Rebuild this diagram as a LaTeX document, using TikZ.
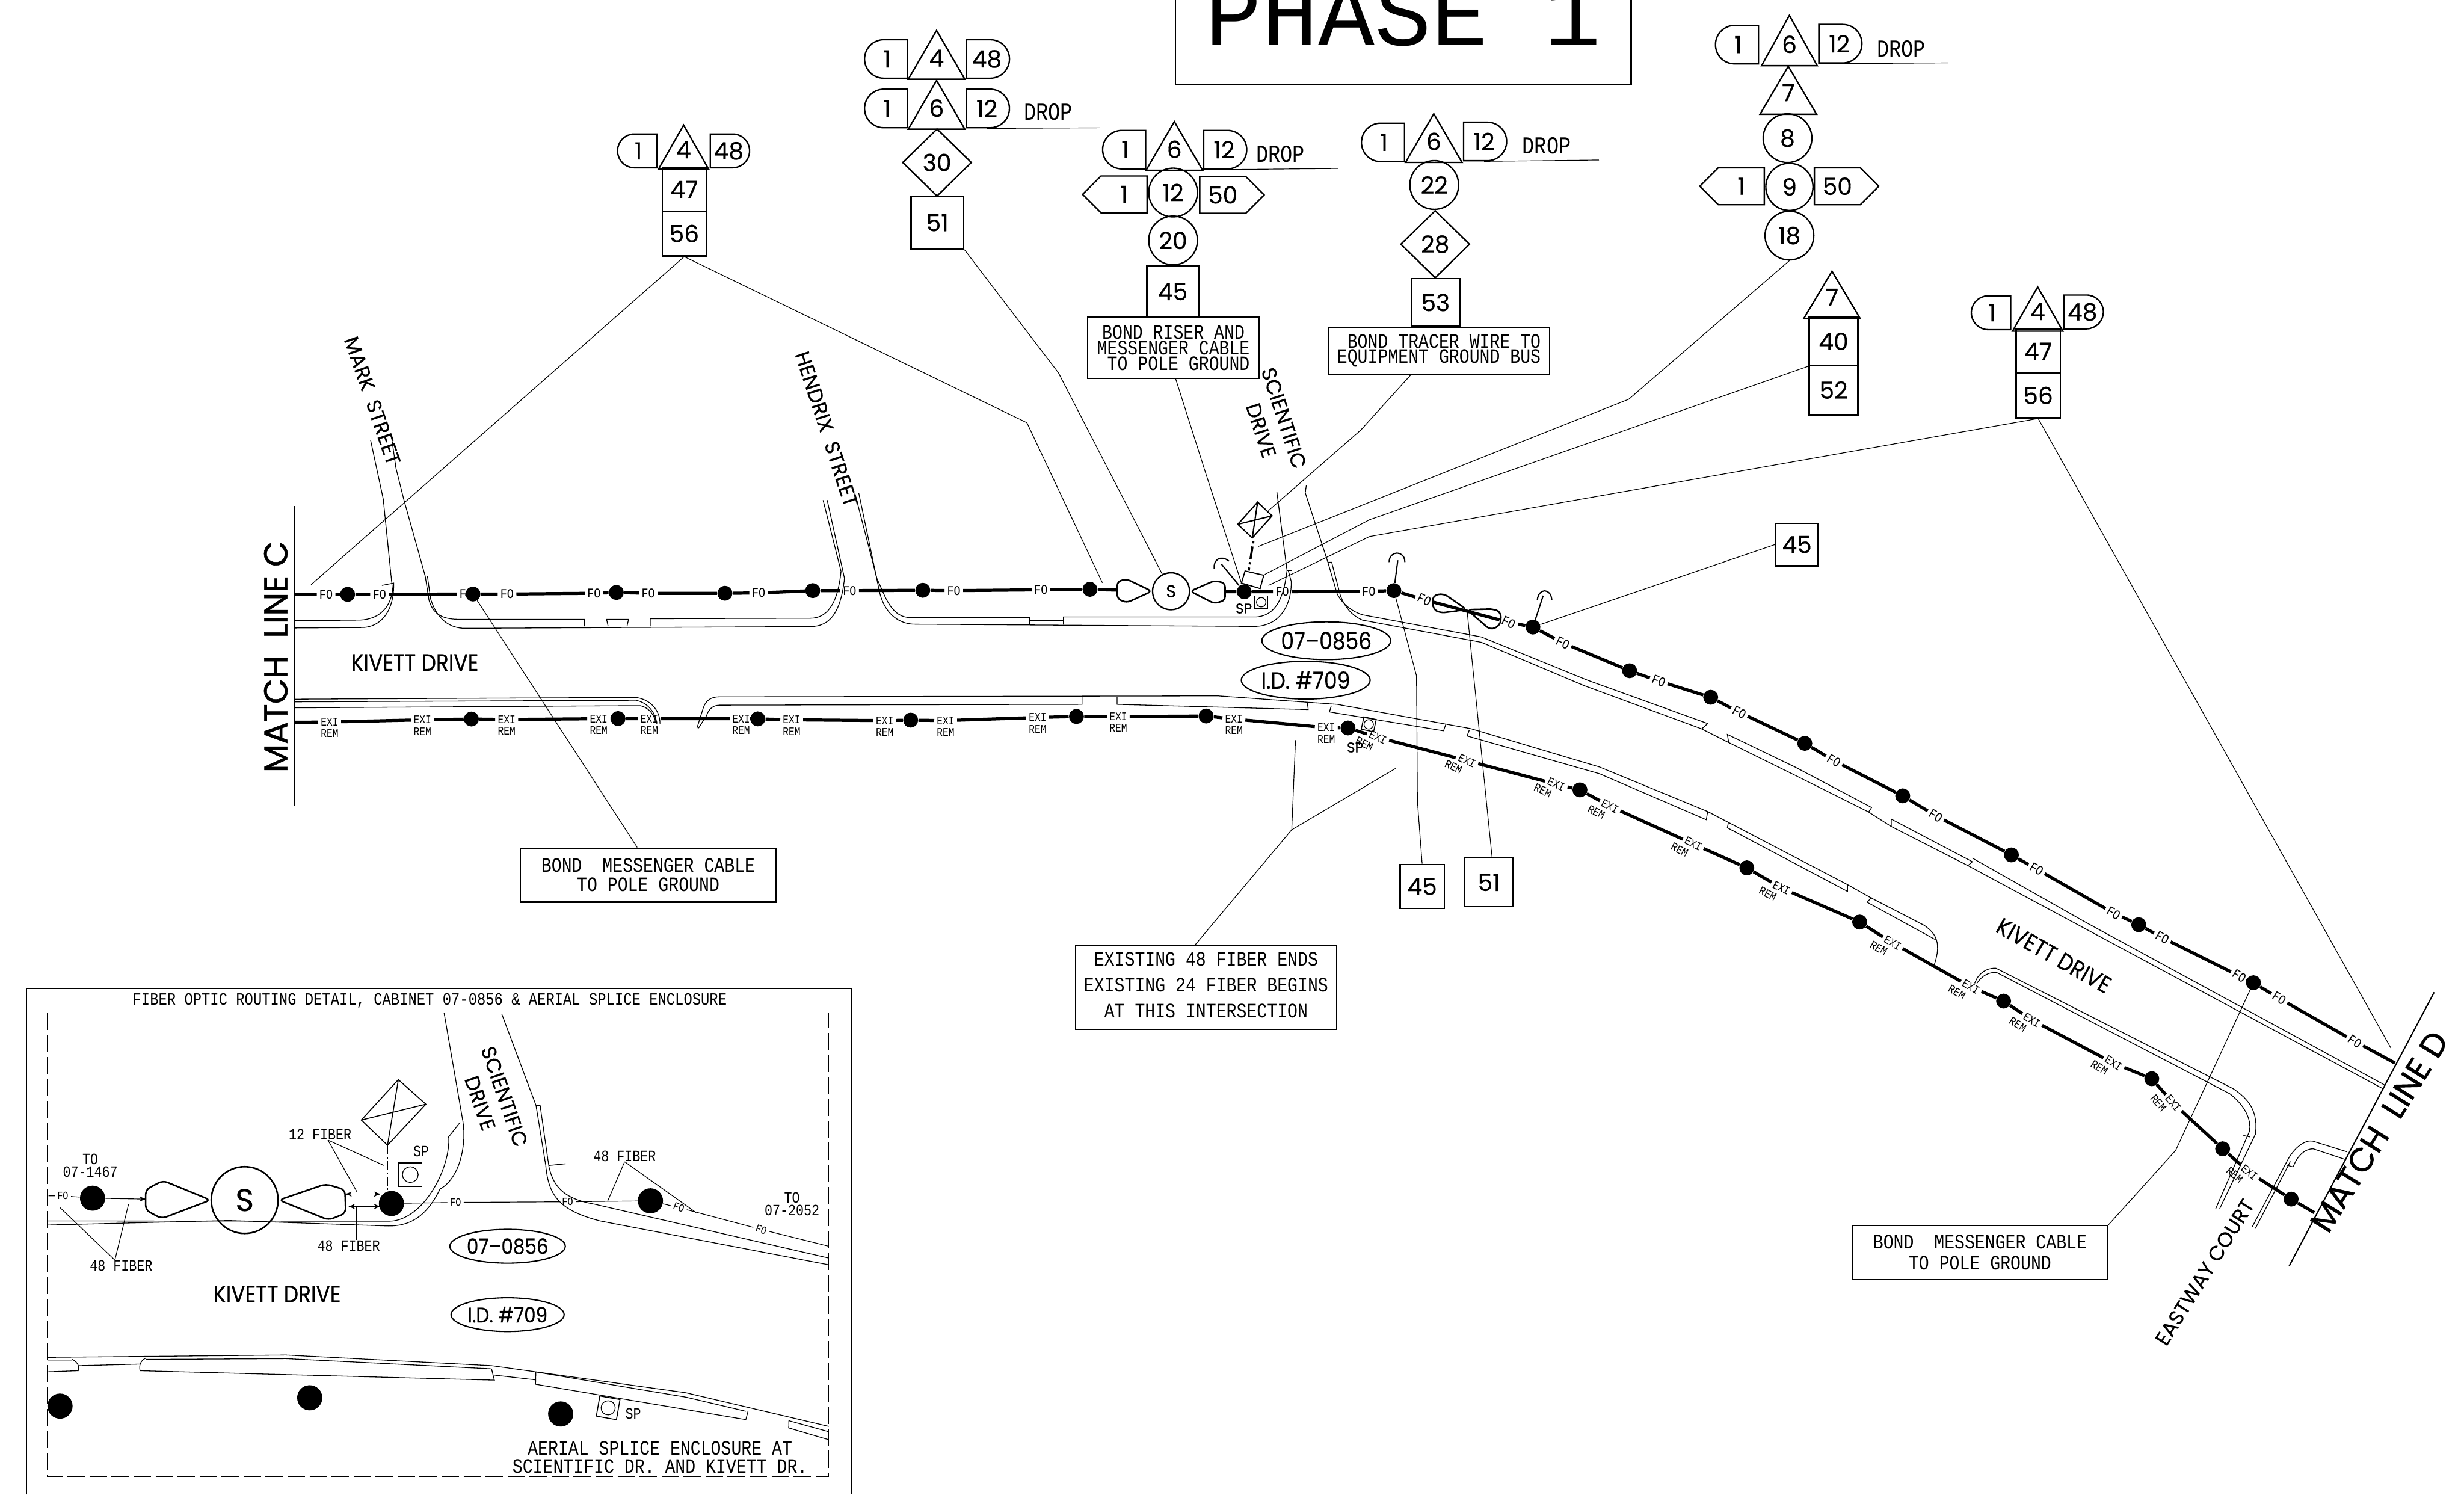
\documentclass[tikz,border=0pt]{standalone}
\usepackage{fontspec}
\usepackage{amsmath}
\usetikzlibrary{arrows}
\usetikzlibrary{calc}
\usetikzlibrary{positioning}
\usetikzlibrary{shapes.geometric,shapes.misc,shapes.symbols}
\newfontfamily\cadfont[FakeStretch=.83]{Liberation Mono}
\newfontfamily\numfont[FakeBold=.4]{Poppins}
\newfontfamily\kivfont[FakeStretch=.88,FakeBold=.5]{Poppins}
\newfontfamily\streetfont[FakeBold=.3]{Poppins}
\newfontfamily\matchfont[FakeBold=1]{Poppins}
\newfontfamily\phasefont{Liberation Mono}
\newcommand{\fsize}[1]{\fontsize{#1}{#1}\selectfont}

\begin{document}
\begin{tikzpicture}[x=1pt,y=-1pt,>=stealth',node distance=31pt]
	\tikzstyle{road}=[line width=.5pt]
	\tikzstyle{lead}=[line width=.45pt]
	\tikzstyle{fiber}=[line width=2pt]
	\tikzstyle{guy}=[line width=.8pt]
	\tikzstyle{outline}=[line width=.9pt]
	\tikzstyle{pole}=[circle, fill=black, inner sep=0pt, minimum size=9.5pt]
	\tikzstyle{bigpole}=[circle, fill=black, inner sep=0pt, minimum size=16pt]
	\tikzstyle{num}=[draw, line width=.9pt, inner sep=0pt, font=\numfont\fsize{15}]
	\tikzstyle{numsq}=[num, rectangle, minimum width=31pt, minimum height=31pt]
	\tikzstyle{numcirc}=[num, circle, minimum size=31pt]
	\tikzstyle{numdiam}=[num, diamond, minimum width=44pt, minimum height=43pt]
	\tikzstyle{numtri}=[num, isosceles triangle, isosceles triangle stretches, shape border rotate=90, minimum height=31pt, minimum width=36pt, text depth=6pt, anchor=apex]
	\tikzstyle{pillleft}=[num, rounded rectangle, rounded rectangle right arc=none, minimum width=27.4pt, minimum height=24.5pt]
	\tikzstyle{pillright}=[num, rounded rectangle, rounded rectangle left arc=none, minimum width=27.4pt, minimum height=24.5pt]
	\tikzstyle{arrowleft}=[num, signal, signal to=west, signal from=nowhere, signal pointer angle=90, minimum width=41pt, minimum height=23.5pt]
	\tikzstyle{arrowright}=[num, signal, signal to=east, signal from=nowhere, signal pointer angle=90, minimum width=41pt, minimum height=23.5pt]
	\tikzstyle{tag}=[draw, ellipse, line width=.8pt, inner sep=0pt, minimum width=82pt, minimum height=24pt, font=\kivfont\fsize{15}]
	\tikzstyle{note}=[draw, line width=.8pt, align=center, font=\cadfont\fsize{13}]
	\tikzstyle{cad}=[align=center, inner sep=0pt, font=\cadfont\fsize{10}]
	\tikzstyle{dropt}=[inner sep=0pt, font=\cadfont\fsize{15.5}]
	\tikzstyle{splice}=[draw, line width=.6pt, rectangle, minimum size=8pt, inner sep=0pt]
	\tikzstyle{street}=[inner sep=0pt, font=\streetfont\fsize{13}]
	\tikzstyle{kivett}=[inner sep=0pt, font=\kivfont\fsize{15}]
	\tikzstyle{matchln}=[inner sep=0pt, font=\matchfont\fsize{21}]
	\tikzset{fo/.style={inner sep=1.5pt, font=\cadfont\fsize{8.5}, rotate=#1}, fo/.default=0}
	\tikzset{exi/.style={inner sep=1.5pt, font=\cadfont\fsize{7.5}, rotate=#1, label={[inner sep=0pt, font=\cadfont\fsize{7.5}, rotate=#1, label distance=.5pt]below:REM}}, exi/.default=0}
	\useasboundingbox (0,0) rectangle (1568,951);

	% title
	\node[draw, outline, rectangle, anchor=south, minimum width=290pt, inner xsep=0pt, inner ysep=24pt, font=\phasefont\fsize{60}] (phase) at (893,54) {PHASE 1};

	% match lines
	\coordinate (mlctop) at (187.5,322);
	\coordinate (mlcbot) at (187.5,513);
	\coordinate (mldtop) at (1549,631.4);
	\coordinate (mldbot) at (1456.7,805.6);
	\draw[guy] (mlctop) -- (mlcbot);
	\draw[guy] (mldtop) -- (mldbot);
	\node[matchln, rotate=90] (mlc) at (175.5,418) {MATCH\ \ LINE C};
	\node[matchln, rotate=58] (mld) at (1514,720) {MATCH\ \ LINE D};

	% road edges, top side of kivett
	\draw[road] (235.8,280) -- (243.9,317.6) -- (249.8,375.8) .. controls (248,388) and (240,394.6) .. (227.6,394.6) -- (187.5,395);
	\draw[road] (243,372.5) -- (250.5,371) .. controls (251,388) and (243,399.3) .. (230,399.3) -- (187.5,399.6);
	\draw[road] (249,277) -- (252,298) -- (256.9,317.6) -- (270.6,366.6) -- (273,382) .. controls (276,392) and (283,394.1) .. (292.7,394.1) -- (371.8,394.1) -- (371.8,398.5);
	\draw[road] (272,366.6) -- (274,381) .. controls (278,394) and (286,399.8) .. (296,399.8) -- (515.6,398.7) .. controls (528,398.7) and (535,390) .. (537.4,368) -- (526.4,318.3);
	\draw[road] (372,396.3) -- (386,396.3) (400,396.3) -- (414,396.3);
	\draw[road] (387,398.5) -- (386,394.1) -- (400,394.1) -- (399,398.5);
	\draw[road] (413.8,398.5) -- (413.8,393.7) -- (515.6,393.4) .. controls (526,393.4) and (533,385) .. (535.2,363.5) -- (523.8,318.3);
	\draw[road] (546.5,313.8) -- (554.7,352.8) -- (559.5,375.8) .. controls (562,388) and (570,397.2) .. (582.3,397.2) -- (798,398.6) .. controls (815,398.6) and (822,384) .. (821.7,370) -- (819.8,363);
	\draw[road] (544,313.8) -- (558,368) -- (562.8,378.8) .. controls (567,388) and (572,392.9) .. (579,392.9) -- (655.2,392.9) -- (655.2,397.5);
	\draw[road] (655.2,395) -- (676.7,395);
	\draw[road] (676.7,397.5) -- (676.7,392.6) -- (798,392.6) .. controls (812,392.6) and (817,380) .. (819,363) -- (812.5,312.8);
	\draw[road] (819,363) -- (821.7,363);
	\draw[road] (831.3,308.8) -- (830.6,313.5) -- (845,357.7) -- (850.9,377.8) .. controls (854,384) and (860,389) .. (867,391.2) -- (942.7,405.3) -- (1010.2,432.8) -- (1086.7,460.4);
	\draw[road] (845,357.7) -- (847.4,357.7) -- (853,379) .. controls (856,387) and (861,392) .. (867,394.6) -- (942.7,408.7) -- (1008.2,436.3) -- (1082.9,463.8) -- (1100.1,472.5) -- (1140.3,492.3) -- (1189.1,516.7) -- (1203.5,525.9) -- (1252.3,550.8) -- (1516.3,692.7);
	\draw[road] (1086.7,460.4) -- (1082.9,463.8);
	\draw[road] (1100.1,472.5) -- (1099.2,467.3) -- (1142.2,488) -- (1191,513.8) -- (1189.1,516.7);
	\draw[road] (1203.5,525.9) -- (1203.5,521.2) -- (1255.1,548.3) -- (1252.3,550.8);
	\draw[road] (1255.1,546) -- (1327.5,587) -- (1517.5,690.4);

	% road edges, bottom side of kivett
	\draw[road] (187.5,444.9) -- (404.6,443.8) .. controls (414,445) and (420,452) .. (420,460.4);
	\draw[road] (187.5,446.6) -- (404.6,445.6) .. controls (412,447) and (417,453) .. (418,460.4);
	\draw[road] (187.5,450.4) -- (407.3,449) .. controls (412,450) and (415,453) .. (417,458);
	\draw[road] (443.5,463.3) -- (447.5,450.6) .. controls (449,446) and (452,443.4) .. (458,443.4) -- (775,442.8) -- (851,448.2) -- (935.8,463.6) -- (1017.8,488) -- (1086.7,516.4) -- (1175.7,562.9) -- (1191,571.5) -- (1224.5,588.8) .. controls (1232,594) and (1236,600) .. (1230.3,615.5);
	\draw[road] (444.5,463.3) -- (449.7,455.2) .. controls (451,451) and (454,448.7) .. (458,448.7) -- (688.6,448.2) -- (688.6,443.6);
	\draw[road] (710.9,443.6) -- (710.9,448.2) -- (832.5,451.5) -- (832,447.4);
	\draw[road] (847.2,449) -- (846,453) -- (918.6,465) -- (920,461);
	\draw[road] (935,464.5) -- (933.6,468.3) -- (1017.8,492.3) -- (1085.8,521.6) -- (1086.7,516.4);
	\draw[road] (1100,523) -- (1099.2,526.7) -- (1175.7,567.2) -- (1175.7,562.9);
	\draw[road] (1191,571) -- (1188.2,574.1) -- (1232.2,598.2);
	\draw[road] (1256.6,625.7) .. controls (1259,619) and (1264,616) .. (1270,616) -- (1421,692.7) .. controls (1432,700) and (1437,708) .. (1435.2,721.8) -- (1412.4,769.3);
	\draw[road] (1258,625.7) .. controls (1261,621) and (1266,618) .. (1271,619) -- (1419,696) .. controls (1428,703) and (1433,712) .. (1431.4,720) -- (1409.9,769.3);
	\draw[road] (1427.6,722.5) -- (1432,723.5);
	\draw[road] (1433.2,780.7) -- (1455.5,738.6) .. controls (1460,730) and (1467,725) .. (1472,726.2) -- (1493.5,732.9);
	\draw[road] (1435.2,781.7) -- (1457.5,739) (1459.3,742.5) .. controls (1462,735) and (1467,731) .. (1472,731) -- (1492.2,737.7);
	\draw[road] (1455.5,741.5) -- (1459.3,742.5);

	% upper fiber run
	\coordinate (fstart) at (187.5,378.3);
	\node[fo] (fo1) at (207.5,378.3) {FO};
	\node[pole] (pa) at (221.2,378.2) {};
	\node[fo] (fo2) at (241.5,378.2) {FO};
	\node[fo] (fo3) at (294.5,378) {F};
	\node[pole] (pb) at (301,378) {};
	\node[fo] (fo4) at (322.7,378) {FO};
	\node[fo] (fo5) at (378,377.5) {FO};
	\node[pole] (pc) at (392.2,377) {};
	\node[fo] (fo6) at (412.5,377.5) {FO};
	\node[pole] (pd) at (461.3,377.5) {};
	\node[fo] (fo7) at (482.8,377.3) {FO};
	\node[pole] (pe) at (517.2,375.8) {};
	\node[fo] (fo8) at (540.7,375.8) {FO};
	\node[pole] (pf) at (587.2,375.6) {};
	\node[fo] (fo9) at (607,375.8) {FO};
	\node[fo] (fo10) at (662.4,375.3) {FO};
	\node[pole] (pg) at (693.6,375) {};
	\coordinate (wingla) at (711,375.5);
	\coordinate (winglb) at (779.6,376.5);
	\node[draw, circle, outline, inner sep=0pt, minimum size=23.5pt, font=\numfont\fsize{11}] (ssum) at (745.2,376.2) {S};
	\node[pole] (ph) at (791.8,376.5) {};
	\node[fo] (fo11) at (816,376.5) {FO};
	\node[fo] (fo12) at (871,376.2) {FO};
	\node[pole] (pi) at (887,375.8) {};
	\node[fo=-25] (fo13) at (906.4,381.6) {FO};
	\coordinate (bowc) at (933.5,387.9);
	\node[fo=-25] (fo14) at (960,396) {FO};
	\node[pole] (pj) at (975.5,399) {};
	\node[fo=-25] (fo15) at (994.5,409) {FO};
	\node[pole] (pk) at (1037,426.8) {};
	\node[fo=-22] (fo16) at (1055.5,433.3) {FO};
	\node[pole] (pl) at (1088.6,443.7) {};
	\node[fo=-28] (fo17) at (1106.8,453.2) {FO};
	\node[pole] (pm) at (1148.5,473) {};
	\node[fo=-30] (fo18) at (1167,484) {FO};
	\node[pole] (pn) at (1210.8,506.4) {};
	\node[fo=-30] (fo19) at (1231.8,519) {FO};
	\node[pole] (po) at (1280,544) {};
	\node[fo=-30] (fo20) at (1296,553) {FO};
	\node[fo=-30] (fo21) at (1345,581) {FO};
	\node[pole] (pp) at (1361,588.4) {};
	\node[fo=-30] (fo22) at (1376,596.6) {FO};
	\node[fo=-32] (fo23) at (1425,621) {FO};
	\node[pole] (pq) at (1434,625.3) {};
	\node[fo=-32] (fo24) at (1450.4,635.3) {FO};
	\node[fo=-32] (fo25) at (1498.5,662.6) {FO};
	\coordinate (fend) at (1524,676.4);
	\draw[fiber] (fstart) -- (fo1) -- (pa) -- (fo2) -- (fo3) -- (pb) -- (fo4) -- (fo5) -- (pc) -- (fo6) -- (pd) -- (fo7) -- (pe) -- (fo8) -- (pf) -- (fo9) -- (fo10) -- (pg) -- (wingla);
	\draw[fiber] (winglb) -- (ph) -- (fo11) -- (fo12) -- (pi) -- (fo13) -- (fo14) -- (pj) -- (fo15) -- (pk) -- (fo16) -- (pl) -- (fo17) -- (pm) -- (fo18) -- (pn) -- (fo19) -- (po) -- (fo20) -- (fo21) -- (pp) -- (fo22) -- (fo23) -- (pq) -- (fo24) -- (fo25) -- (fend);

	% lower fiber run
	\coordinate (estart) at (187.5,459.6);
	\node[exi] (ex1) at (209.8,459.4) {EXI};
	\node[exi] (ex2) at (268.8,458) {EXI};
	\node[pole] (qa) at (300,457.5) {};
	\node[exi] (ex3) at (322.4,457.8) {EXI};
	\node[exi] (ex4) at (381,457.3) {EXI};
	\node[pole] (qb) at (393.3,457.2) {};
	\node[exi] (ex5) at (413.2,457.3) {EXI};
	\node[exi] (ex6) at (471.6,457.3) {EXI};
	\node[pole] (qc) at (482.2,457.4) {};
	\node[exi] (ex7) at (503.8,458) {EXI};
	\node[exi] (ex8) at (563,458.5) {EXI};
	\node[pole] (qd) at (579.5,458.2) {};
	\node[exi] (ex9) at (601.8,458.5) {EXI};
	\node[exi] (ex10) at (660.3,456.5) {EXI};
	\node[pole] (qe) at (685,455.9) {};
	\node[exi] (ex11) at (711.6,456) {EXI};
	\node[pole] (qf) at (767.5,455.6) {};
	\node[exi] (ex12) at (785.2,457.5) {EXI};
	\node[exi] (ex13) at (844,463) {EXI};
	\node[pole] (qg) at (857.8,463.2) {};
	\node[exi=-25] (ex14) at (876.8,469.2) {EXI};
	\node[exi=-25] (ex15) at (933.5,484) {EXI};
	\node[exi=-25] (ex16) at (990.3,499) {EXI};
	\node[pole] (qh) at (1005.4,502.6) {};
	\node[exi=-27] (ex17) at (1024.5,513) {EXI};
	\node[exi=-27] (ex18) at (1077.5,537) {EXI};
	\node[pole] (qi) at (1111.6,552.2) {};
	\node[exi=-27] (ex19) at (1133.6,565) {EXI};
	\node[pole] (qj) at (1183.4,586.7) {};
	\node[exi=-30] (ex20) at (1204.4,600) {EXI};
	\node[exi=-30] (ex21) at (1254.2,628) {EXI};
	\node[pole] (qk) at (1275,637) {};
	\node[exi=-32] (ex22) at (1293,649) {EXI};
	\node[exi=-32] (ex23) at (1345,676.5) {EXI};
	\node[pole] (ql) at (1369.3,686.4) {};
	\node[exi=-50] (ex24) at (1383,702) {EXI};
	\node[pole] (qm) at (1414.4,731) {};
	\node[exi=-40] (ex25) at (1431.4,746) {EXI};
	\node[pole] (qn) at (1458,763) {};
	\coordinate (eend) at (1472.7,771.6);
	\draw[fiber] (estart) -- (ex1) -- (ex2) -- (qa) -- (ex3) -- (ex4) -- (qb) -- (ex5) -- (ex6) -- (qc) -- (ex7) -- (ex8) -- (qd) -- (ex9) -- (ex10) -- (qe) -- (ex11) -- (qf) -- (ex12) -- (ex13) -- (qg) -- (ex14) -- (ex15) -- (ex16) -- (qh) -- (ex17) -- (ex18) -- (qi) -- (ex19) -- (qj) -- (ex20) -- (ex21) -- (qk) -- (ex22) -- (ex23) -- (ql) -- (ex24) -- (qm) -- (ex25) -- (qn) -- (eend);

	% risers, bow ties, splice
	\draw[guy, line width=1pt, rounded corners=2.5pt] (ssum.west) -- (717,368.5) -- (711,370) -- (711,381) -- (717,383.5) -- cycle;
	\draw[guy, line width=1pt, rounded corners=2.5pt] (ssum.east) -- (772.7,369.5) -- (779.6,371) -- (779.6,382) -- (772.7,384) -- cycle;
	\draw[guy, line width=1pt, rounded corners=3pt] (bowc) -- (918.6,377.6) -- (911.7,379) -- (911.7,387.2) -- (916.3,390.1) -- cycle;
	\draw[guy, line width=1pt, rounded corners=3pt] (bowc) -- (950.8,387.5) -- (955.4,389.9) -- (954.7,397.9) -- (948.5,400.9) -- cycle;
	\draw[guy] (ph) -- (777.3,359);
	\draw[guy] (772.7,361.7) .. controls (772,356) and (777,353) .. (782,357);
	\draw[guy] (pi) -- (889.5,356.5);
	\draw[guy] (884,357.7) .. controls (884,350) and (894,350) .. (894,357.7);
	\draw[guy] (pj) -- (982,379);
	\draw[guy] (978.3,381.8) .. controls (979,374) and (987,374) .. (987.5,381.8);

	\coordinate (cnA) at (800.3,319.5);
	\coordinate (cnB) at (809.5,328.2);
	\coordinate (cnC) at (796.9,342.3);
	\coordinate (cnD) at (787.7,333.6);
	\draw[guy] (cnA) -- (cnB) -- (cnC) -- (cnD) -- cycle (cnA) -- (cnC) (cnB) -- (cnD);
	\draw[guy, line width=1.4pt, dash pattern=on 1.5pt off 2pt on 8pt off 2pt] (797.6,344.3) -- (794.6,363);
	\draw[guy, line width=.7pt] (792.3,363.3) -- (804.2,366) -- (801.9,374.5) -- (790,371) -- cycle;
	\node[splice] (spa) at (802.6,383.2) {};
	\draw[guy, line width=.5pt] (spa) circle (3pt);
	\node[splice, rotate=-12] (spb) at (871,460.9) {};
	\draw[guy, line width=.5pt] (spb) circle (3pt);
	\node[inner sep=0pt, font=\numfont\fsize{9}] (sptxta) at (791.5,387.2) {SP};
	\node[inner sep=0pt, font=\numfont\fsize{9}] (sptxtb) at (862.3,475.6) {SP};

	% labels on the roads
	\node[street, rotate=-71] (markst) at (237,255) {MARK\ \ STREET};
	\node[street, rotate=-72] (hendrix) at (526,273) {HENDRIX\ \ STREET};
	\node[street, rotate=-72] (scia) at (817,266) {SCIENTIFIC};
	\node[street, rotate=-72] (scib) at (802.5,274) {DRIVE};
	\node[kivett] (kivleft) at (264,421.6) {KIVETT DRIVE};
	\node[kivett, rotate=-29.5] (kivright) at (1307,608) {KIVETT DRIVE};
	\node[street, rotate=58] (eastway) at (1403,809.5) {EASTWAY COURT};
	\node[tag] (cab) at (844,407.7) {07–0856};
	\node[tag] (ident) at (830.9,432.8) {I.D. \#709};

	% stack one
	\node[numtri, minimum height=28pt, minimum width=32pt] (a4) at (435,78.4) {4};
	\node[pillleft, minimum width=25pt, minimum height=21.5pt] (a1) at (406.2,96) {1};
	\node[pillright, minimum width=25pt, minimum height=21.5pt] (a48) at (463.7,96) {48};
	\node[numsq, minimum width=28pt, minimum height=27.7pt] (a47) at (435.4,120.5) {47};
	\node[numsq, minimum width=28pt, minimum height=28.5pt] (a56) at (435.4,148.6) {56};

	% stack two
	\node[numtri] (b4) at (596,18.2) {4};
	\node[pillleft] (b1) at (564.5,37.5) {1};
	\node[pillright] (b48) at (628,37.5) {48};
	\node[numtri] (b6) at (596,50) {6};
	\node[pillleft] (b1x) at (564.5,69) {1};
	\node[pillright] (b12) at (628,69) {12};
	\node[dropt] (bdrop) at (667,71.2) {DROP};
	\coordinate (bline) at (700,81.3);
	\node[numdiam] (b30) at (596.3,103.4) {30};
	\node[numsq, minimum width=33.6pt, minimum height=33.5pt] (b51) at (596.5,141.7) {51};
	\draw[lead] (b12.south) -- (bline);

	% stack three
	\node[numtri] (c6) at (747.3,76.2) {6};
	\node[pillleft] (c1) at (716,95.2) {1};
	\node[pillright] (c12) at (779,95.2) {12};
	\node[dropt] (cdrop) at (814.8,98) {DROP};
	\coordinate (cline) at (851.6,107.2);
	\node[numcirc] (c12b) at (746.5,122.5) {12};
	\node[arrowleft] (c1b) at (715.3,123.7) {1};
	\node[arrowright] (c50) at (778.1,124) {50};
	\node[numcirc] (c20) [below of=c12b, node distance=30.5pt] {20};
	\node[numsq, minimum width=33pt, minimum height=32.5pt] (c45) at (746.3,185.6) {45};
	\node[note, inner sep=0pt, minimum width=109pt, minimum height=39pt, text depth=0pt] (noteriser) at (746.7,221.3) {BOND RISER AND\\[-3pt]MESSENGER CABLE\\[-3pt]\ TO POLE GROUND};
	\draw[lead] (c12.south) -- (cline);

	% stack four
	\node[numtri] (d6) at (912.4,71.2) {6};
	\node[pillleft] (d1) at (880.7,90.6) {1};
	\node[pillright] (d12) at (944.4,90) {12};
	\node[dropt] (ddrop) at (984.2,92.8) {DROP};
	\coordinate (dline) at (1017.5,101.8);
	\node[numcirc] (d22) at (912.7,117.7) {22};
	\node[numdiam] (d28) at (913.3,155.4) {28};
	\node[numsq, minimum height=30.3pt] (d53) at (913.5,192.5) {53};
	\node[note, inner sep=0pt, minimum width=141pt, minimum height=30pt] (notetrace) at (915.7,223.2) {\ BOND TRACER WIRE TO\\[-3.4pt]EQUIPMENT GROUND BUS};
	\draw[lead] (d12.south) -- (dline);

	% stack five
	\node[numtri, minimum height=32pt, minimum width=35.4pt] (e6) at (1138.7,8.6) {6};
	\node[pillleft] (e1) at (1106,28.4) {1};
	\node[pillright] (e12) at (1170.5,27.8) {12};
	\node[dropt] (edrop) at (1209.9,31) {DROP};
	\coordinate (eline) at (1239.8,40);
	\node[numtri, minimum height=30.5pt] (e7) at (1138,41) {7};
	\node[numcirc] (e8) at (1137.5,87.9) {8};
	\node[numcirc, minimum size=30pt] (e9) at (1138.7,118.9) {9};
	\node[arrowleft] (e1b) at (1108.1,118.5) {1};
	\node[arrowright] (e50) at (1169.2,118.5) {50};
	\node[numcirc] (e18) [below of=e9] {18};
	\draw[lead] (e12.south) -- (eline);

	% stack six
	\node[numtri, minimum height=30.2pt] (f7) at (1165.8,171.4) {7};
	\node[numsq, minimum height=30.7pt] (f40) at (1166.8,217.2) {40};
	\node[numsq, minimum height=31.5pt] (f52) [below of=f40] {52};

	% stack seven
	\node[numtri, minimum height=28pt, minimum width=32pt] (g4) at (1296.7,181.4) {4};
	\node[pillleft, minimum width=25pt, minimum height=21.5pt] (g1) at (1267.7,199) {1};
	\node[pillright, minimum width=25pt, minimum height=21.5pt] (g48) at (1325.2,198.5) {48};
	\node[numsq, minimum width=28pt, minimum height=27.7pt] (g47) at (1297,223.5) {47};
	\node[numsq, minimum width=28pt, minimum height=28.5pt] (g56) at (1297,251.6) {56};

	% loose number boxes and notes
	\node[numsq, minimum width=27pt, minimum height=27pt] (r45) at (1143.5,346.5) {45};
	\node[numsq, minimum width=28pt, minimum height=28pt] (s45) at (905,564) {45};
	\node[numsq] (s51) at (947.5,561.5) {51};
	\node[note, inner sep=0pt, minimum width=163pt, minimum height=34.4pt] (notemsgl) at (412.5,556.8) {BOND\ \ MESSENGER CABLE\\[-.8pt]TO POLE GROUND};
	\node[note, inner sep=0pt, minimum width=166.4pt, minimum height=53.3pt, text depth=3pt] (noteexist) at (767.5,628.3) {EXISTING 48 FIBER ENDS\\[3.5pt]EXISTING 24 FIBER BEGINS\\[3.5pt]AT THIS INTERSECTION};
	\node[note, inner sep=0pt, minimum width=162.6pt, minimum height=34.4pt] (notemsgr) at (1260,797) {BOND\ \ MESSENGER CABLE\\[.6pt]TO POLE GROUND};

	% leaders
	\coordinate (endfstart) at (198,372);
	\coordinate (endpg) at (701.5,370.8);
	\coordinate (endbox) at (804.9,365.5);
	\coordinate (endroad) at (807.2,372.5);
	\coordinate (enddash) at (800.8,347.7);
	\coordinate (enddiam) at (807.2,324.9);
	\coordinate (endmld) at (1521.4,666.8);
	\coordinate (endola) at (824.4,471);
	\coordinate (endolb) at (888,489);
	\draw[lead] (a56.south) -- (endfstart);
	\draw[lead] (a56.south) -- (653.5,269) -- (endpg);
	\draw[lead] (b51.south east) -- (673.6,237.3) -- (ssum);
	\draw[lead] (noteriser.south) ++(1.5,0) -- (766.9,300) -- (ph);
	\draw[lead] (notetrace.south) ++(-18,0) -- (865.9,273.7) -- (enddiam);
	\draw[lead] (e18.south) -- (1036.5,254) -- (enddash);
	\draw[lead] (f40.south west) -- (871.5,330.7) -- (endbox);
	\draw[lead] (g56.south) -- (871.5,341.4) -- (endroad);
	\draw[lead] (g56.south) -- (endmld);
	\draw[lead] (r45.west) -- (pj);
	\draw[lead] (s45.north) -- (902,510) -- (901.4,430) -- (pi);
	\draw[lead] (s51.north) ++(2,0) -- (bowc);
	\draw[lead] (notemsgl.north) ++(-7,0) -- (pb);
	\draw[lead] (noteexist.north) ++(-7,0) -- (822,528) -- (endola);
	\draw[lead] (822,528) -- (endolb);
	\draw[lead] (notemsgr.north east) -- (1384.5,732) -- (pq);

	% detail frame
	\coordinate (frbl) at (17,951);
	\coordinate (frtl) at (17,629);
	\coordinate (frtr) at (542,629);
	\coordinate (frbr) at (542,951);
	\draw[guy, line width=.6pt] (frbl) -- (frtl) -- (frtr) -- (frbr);
	\draw[guy, line width=.5pt, dash pattern=on 11pt off 3pt] (30.2,644.5) rectangle (527.4,939.7);
	\node[cad, font=\cadfont\fsize{11}] (dettitle) at (273.5,636.6) {FIBER OPTIC ROUTING DETAIL, CABINET 07-0856 \& AERIAL SPLICE ENCLOSURE};

	% detail roads
	\draw[road] (282.6,644.5) -- (294.6,713.7) .. controls (297,730) and (292,750) .. (280,756.6) .. controls (272,773) and (262,780.1) .. (247.3,780.1) -- (145.5,776.6) -- (30.2,779.5);
	\draw[road] (292.8,714.2) -- (285.5,723.4) .. controls (287,742) and (270,777) .. (247.3,777.1) -- (30.2,776.9);
	\draw[road] (319.3,645.2) -- (341.1,703.4) -- (347.3,741.6) .. controls (349,760) and (355,770) .. (381.9,776.9) -- (527.4,804.8);
	\draw[road] (341.1,703.4) -- (343.7,703.4) -- (349.2,741.6) .. controls (352,756) and (360,763) .. (378.2,766.2) -- (527.4,800.5);
	\draw[road] (349.2,741.6) -- (360,740.5);
	\draw[road] (30.2,863.7) -- (181.9,862.2) -- (312.8,869) -- (436.4,886.2) -- (527.4,907.6);
	\draw[road] (30.2,866) -- (46,866) (93,865) -- (181.9,864.5) -- (312.8,871) (341,873) -- (436.4,889) -- (474.6,898) (502,904) -- (527.4,911);
	\draw[road] (30.2,872.9) -- (49.8,872.2) .. controls (50.5,870) and (50,867) .. (46,865);
	\draw[road] (49.8,869) -- (89.1,868);
	\draw[road] (93,864) .. controls (89,866) and (88.5,869) .. (89.1,872.2) -- (314.6,878.2) -- (312.8,871);
	\draw[road] (314.6,875) -- (340.8,878);
	\draw[road] (341,873) -- (340.8,880.8) -- (474.6,903.3) -- (476,898);
	\draw[road] (502,904) -- (501.9,908.6) -- (527.4,916.1);

	% detail fiber
	\node[fo, font=\cadfont\fsize{7}] (dfo1) at (40,760.9) {FO};
	\coordinate (dfstart) at (30.9,760.9);
	\node[bigpole] (dpa) at (58.9,762.4) {};
	\coordinate (dwingl) at (92.7,763);
	\node[draw, circle, line width=1pt, inner sep=0pt, minimum size=42.5pt, font=\numfont\fsize{20}] (dsum) at (155.7,763.6) {S};
	\node[bigpole] (dpb) at (249.1,765.8) {};
	\node[fo, font=\cadfont\fsize{7}] (dfo2) at (289.9,765.1) {FO};
	\node[fo, font=\cadfont\fsize{7}] (dfo3) at (361.2,764.7) {FO};
	\node[bigpole] (dpc) at (413.9,764.1) {};
	\node[fo=-20, font=\cadfont\fsize{7}] (dfo4) at (432,768.4) {FO};
	\node[fo=-20, font=\cadfont\fsize{7}] (dfo5) at (484.4,782.3) {FO};
	\coordinate (dfend) at (527.4,793);
	\draw[lead] (dfstart) -- (dfo1) -- (dpa);
	\draw[lead, ->] (dpa) -- (dwingl);
	\draw[lead] (dpb) -- (dfo2) -- (dfo3) -- (dpc) -- (dfo4) -- (dfo5) -- (dfend);
	\draw[guy, line width=1pt, rounded corners=3pt] (dsum.west) -- (103.7,751.2) -- (92.7,757) -- (92.7,770) -- (102.9,775.4) -- cycle;
	\draw[guy, line width=1pt, rounded corners=3pt] (dsum.east) -- (207.3,753.4) -- (219.5,757) -- (220,772) -- (209.1,776.3) -- cycle;
	\coordinate (dwra) at (220,759.8);
	\coordinate (dwrb) at (221.9,767.7);
	\draw[lead, <->] (dwra) -- (241.9,759.8);
	\draw[lead, <->] (dwrb) -- (241.9,767.7);

	\coordinate (dcnA) at (253.5,687);
	\coordinate (dcnB) at (271,702.6);
	\coordinate (dcnC) at (246.6,728.7);
	\coordinate (dcnD) at (229.9,712.7);
	\draw[guy, line width=.6pt] (dcnA) -- (dcnB) -- (dcnC) -- (dcnD) -- cycle (dcnA) -- (dcnC) (dcnB) -- (dcnD);
	\draw[guy, line width=.6pt, dash pattern=on 6pt off 1.5pt on 1pt off 1.5pt] (dcnC) -- (246.6,757.6);
	\node[splice, minimum size=15pt] (dspa) at (261.1,747.4) {};
	\draw[guy, line width=.5pt] (dspa) circle (5pt);
	\node[splice, minimum size=13pt, rotate=-10] (dspb) at (387,895.8) {};
	\draw[guy, line width=.5pt] (dspb) circle (4.5pt);
	\node[bigpole] (dqa) at (38.2,894.7) {};
	\node[bigpole] (dqb) at (197.1,889.4) {};
	\node[bigpole] (dqc) at (356.8,899.7) {};

	% detail labels
	\node[cad] (dsp1) at (268,732.6) {SP};
	\node[cad] (dsp2) at (403,899.7) {SP};
	\node[cad] (dto1) at (57.5,741.6) {TO\\[-2pt]07-1467};
	\node[cad] (dto2) at (504,766.2) {TO\\[-2pt]07-2052};
	\node[cad] (f12) at (203.7,721.9) {12 FIBER};
	\node[cad] (f48a) at (77.1,805.4) {48 FIBER};
	\node[cad] (f48b) at (221.9,792.6) {48 FIBER};
	\node[cad] (f48c) at (397.5,735.6) {48 FIBER};
	\node[cad, font=\cadfont\fsize{13}] (daerial) at (420,927.3) {AERIAL SPLICE ENCLOSURE AT\\[-1.2pt]SCIENTIFIC DR. AND KIVETT DR.};
	\draw[lead] (f12.south) ++(5,0) -- (227.3,758.7);
	\draw[lead] (f12.south) ++(5,0) -- (244.4,741.6);
	\draw[lead] (f48a.north) ++(-4,0) -- (38.2,768.4);
	\draw[lead] (f48a.north) ++(-4,0) -- (81.8,766.2);
	\draw[lead] (226.6,768.4) -- (f48b.north -| 226.6,0);
	\draw[lead] (f48c.south) -- (386.6,764.5);
	\draw[lead] (f48c.south) -- (443,771.6);
	\node[street, rotate=-71] (dscia) at (321,697.7) {SCIENTIFIC};
	\node[street, rotate=-71] (dscib) at (305.5,702) {DRIVE};
	\node[kivett] (dkiv) at (176.4,823.4) {KIVETT DRIVE};
	\node[tag, minimum width=72pt, minimum height=21.5pt, font=\kivfont\fsize{13.5}] (dcab) at (323,793) {07–0856};
	\node[tag, minimum width=72pt, minimum height=21.5pt, font=\kivfont\fsize{13.5}] (dident) at (323,836.5) {I.D. \#709};
\end{tikzpicture}
\end{document}
